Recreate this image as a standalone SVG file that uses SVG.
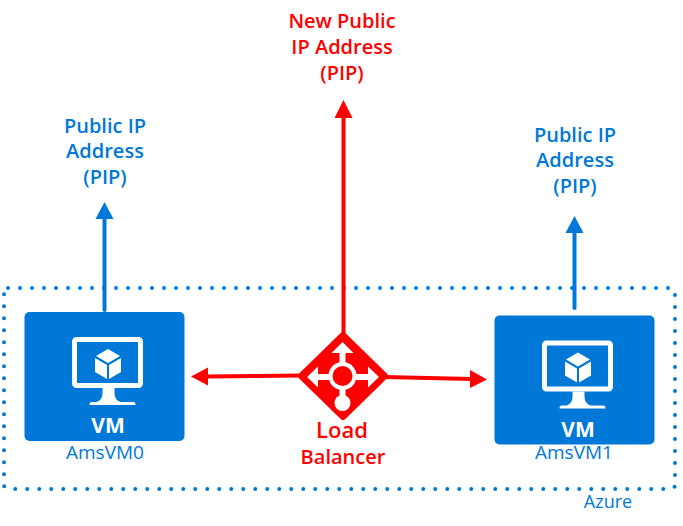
<svg xmlns="http://www.w3.org/2000/svg" xmlns:xlink="http://www.w3.org/1999/xlink" width="683" height="526" viewBox="0 0 683 526">
<style>
text{font-family:"Open Sans","Noto Sans","Liberation Sans",sans-serif;text-anchor:middle}
.b{fill:#0078d7}.r{fill:#ff0000}
.t{font-size:20px;font-weight:600}.s{font-size:19px}
.vm{font-size:21px;font-weight:700;fill:#fff}
.cb{stroke:#0078d7;stroke-width:4;fill:none;stroke-linecap:round}
.cr{stroke:#ff0000;stroke-width:4;fill:none}
</style>
<defs>
<g id="vmicon">
<rect x="0" y="0" width="160" height="129" rx="5" class="b"/>
<rect x="50" y="27.500" width="66" height="46" rx="2" fill="none" stroke="#fff" stroke-width="5"/>
<path d="M78 76h12v5q0 7 6 9h13q2 0 2 3h-46q0-3 2-3h5q6-2 6-9z" fill="#fff"/>
<path d="M83.500 37l12 7-12 7-12-7zM70.500 46l12 7v14l-12-7zM96.500 46v14l-12 7v-14z" fill="#fff"/>
<text x="83.500" y="121" class="vm">VM</text>
</g>
</defs>
<g id="azure-boundary">
<rect x="4" y="288" width="671" height="201" rx="4" fill="none" stroke="#0078d7" stroke-width="4" stroke-linecap="round" stroke-dasharray="0 12"/>
<text x="608" y="508" class="b" font-size="18">Azure</text>
</g>
<g id="connectors">
<path class="cb" d="M104.500 310V216"/>
<path class="b" d="M104.500 202l9 17h-18z"/>
<path class="cb" d="M574.500 308V231"/>
<path class="b" d="M574.500 216l9 17h-18z"/>
<path class="cr" d="M343.500 340V116"/>
<path class="r" d="M343.500 100l9 18h-18z"/>
<path class="cr" d="M302 375.500L206 376.500"/>
<path class="r" d="M191 376.500l17-9v18z"/>
<path class="cr" d="M384 377L472 379"/>
<path class="r" d="M487 379.500l-17 8.500v-18z"/>
</g>
<g id="pip-left">
<text x="105" y="133" class="b t">Public IP</text>
<text x="105" y="158" class="b t">Address</text>
<text x="105" y="184" class="b t">(PIP)</text>
</g>
<g id="pip-new">
<text x="342" y="28" class="r t">New Public</text>
<text x="342" y="54" class="r t">IP Address</text>
<text x="342" y="80" class="r t">(PIP)</text>
</g>
<g id="pip-right">
<text x="575" y="142" class="b t">Public IP</text>
<text x="575" y="167" class="b t">Address</text>
<text x="575" y="193" class="b t">(PIP)</text>
</g>
<g id="vm0">
<use xlink:href="#vmicon" href="#vmicon" x="24.500" y="312"/>
<text x="105" y="459" class="b s">AmsVM0</text>
</g>
<g id="vm1">
<use xlink:href="#vmicon" href="#vmicon" x="494.500" y="315.500"/>
<text x="574" y="459" class="b s">AmsVM1</text>
</g>
<g id="load-balancer">
<path d="M343 335L385 376L343 417L301 376z" class="r" stroke="#ff0000" stroke-width="6" stroke-linejoin="round"/>
<g fill="#fff">
<path d="M342.500 342l11 11h-8v12h-6v-12h-8z"/>
<path d="M307 377l11-10.500v7.500h12v6h-12v7.500z"/>
<path d="M379 377l-11-10.500v7.500h-12v6h12v7.500z"/>
<rect x="339.500" y="388" width="6" height="10"/>
<circle cx="342.500" cy="403" r="8"/>
<circle cx="342.500" cy="376" r="14"/>
</g>
<circle cx="342.500" cy="376" r="10" class="r"/>
<text x="342" y="438" class="r" font-size="22" font-weight="600">Load</text>
<text x="343" y="464" class="r t">Balancer</text>
</g>
</svg>
